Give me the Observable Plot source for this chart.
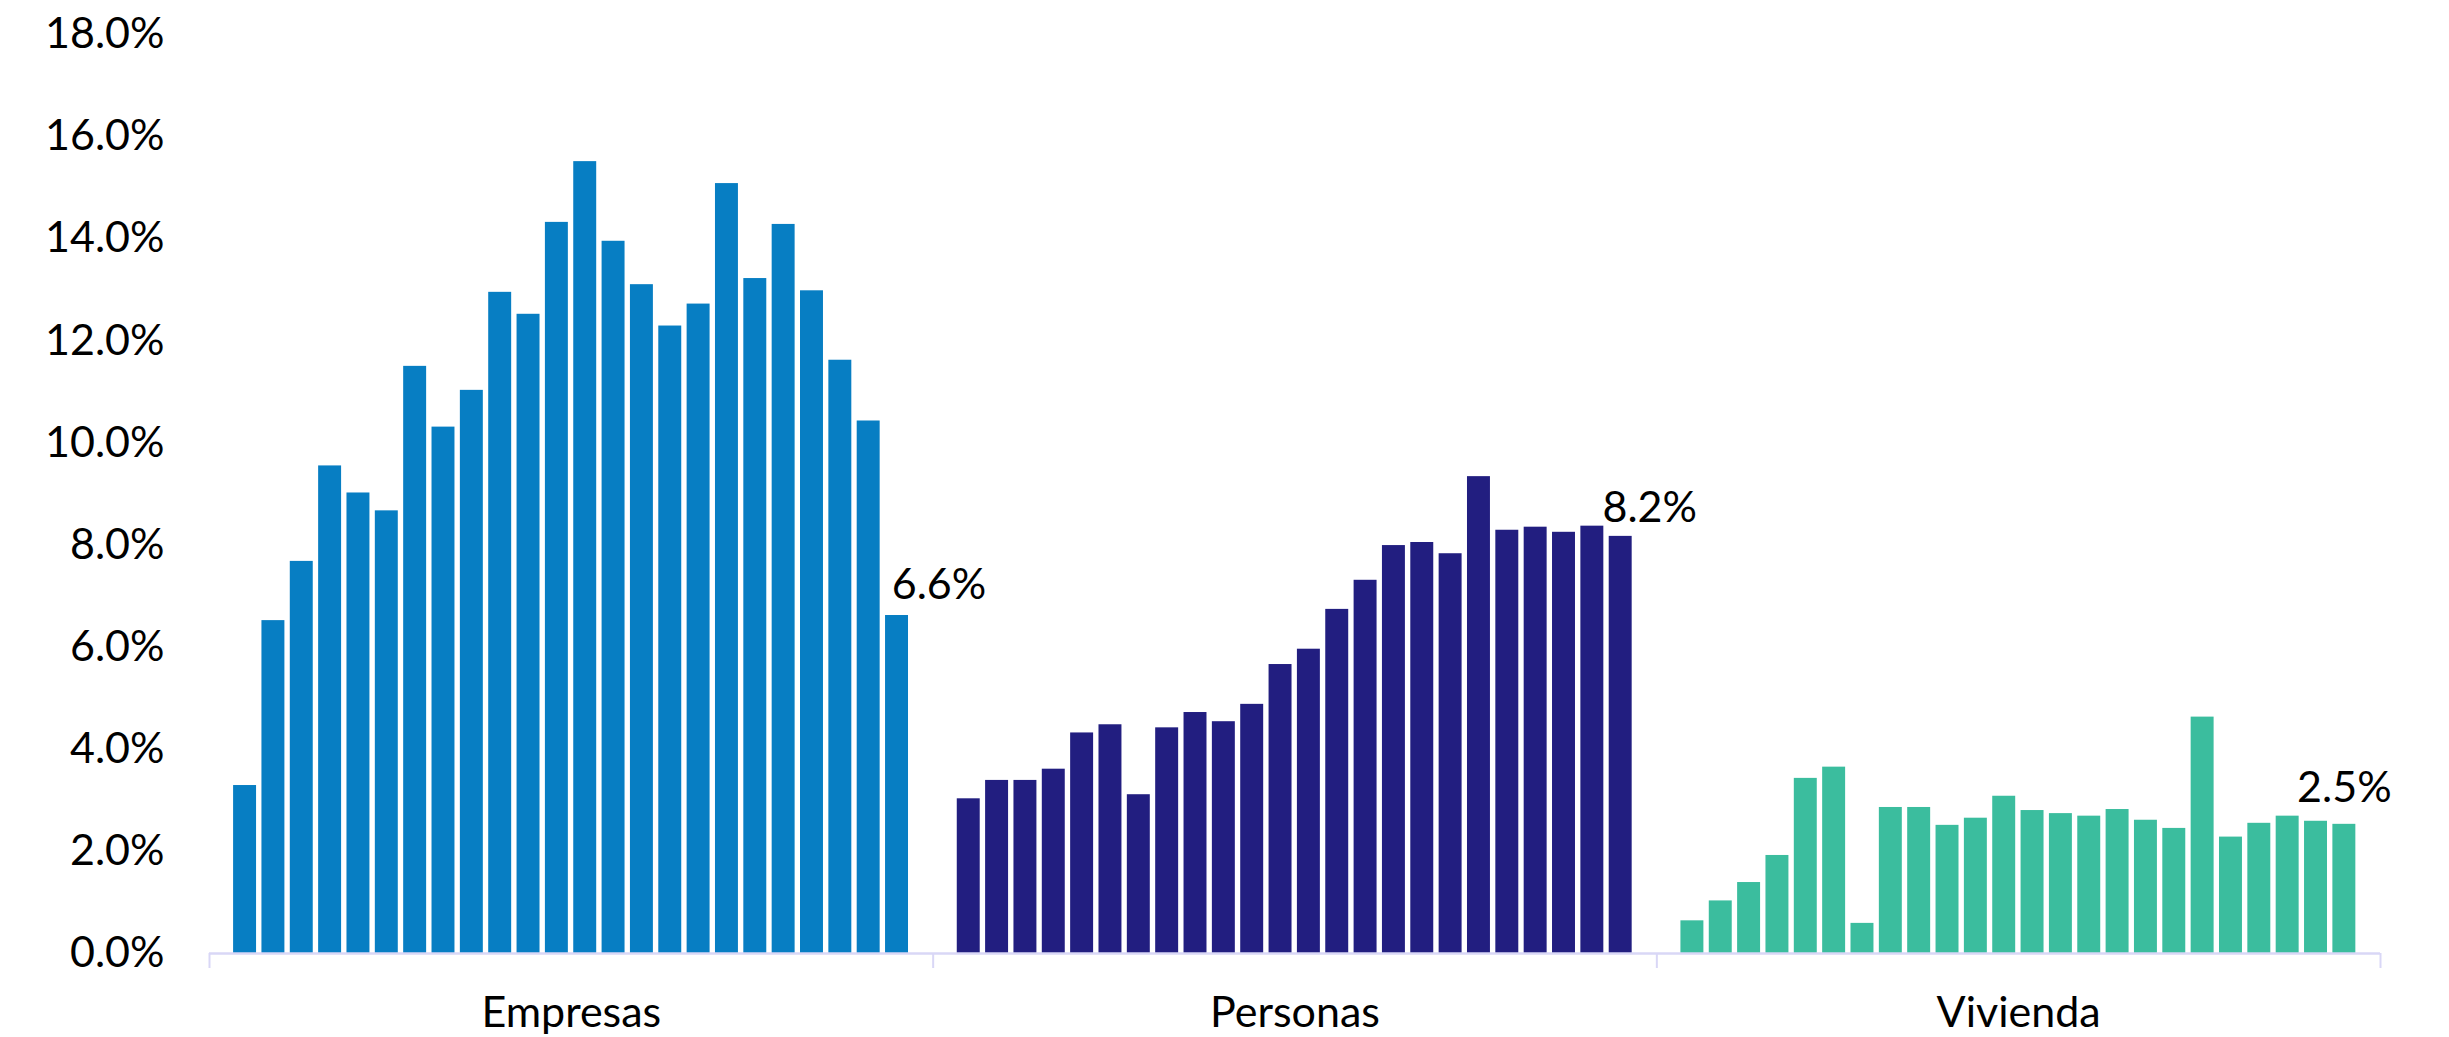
<!DOCTYPE html>
<html>
<head>
<meta charset="utf-8">
<script src="https://cdn.jsdelivr.net/npm/d3@7"></script>
<script src="https://cdn.jsdelivr.net/npm/@observablehq/plot@0.6"></script>
<style>
  html, body { margin: 0; padding: 0; background: #fff; }
  #chart svg { display: block; }
</style>
</head>
<body>
<div id="chart"></div>
<script>
// ---- data ----
const categories = ["Empresas", "Personas", "Vivienda"];
const colors = ["#077ec3", "#221e80", "#3bbd9e"];
const empresas = [3.29, 6.52, 7.68, 9.55, 9.02, 8.67, 11.50, 10.31, 11.03, 12.95, 12.52, 14.32,
                  15.51, 13.95, 13.10, 12.29, 12.72, 15.08, 13.22, 14.28, 12.98, 11.62, 10.43, 6.62];
const personas = [3.03, 3.39, 3.39, 3.61, 4.32, 4.48, 3.11, 4.42, 4.72, 4.54, 4.88, 5.66,
                  5.96, 6.74, 7.31, 7.99, 8.05, 7.83, 9.34, 8.29, 8.35, 8.25, 8.37, 8.17];
const vivienda = [0.64, 1.03, 1.39, 1.92, 3.43, 3.65, 0.59, 2.86, 2.86, 2.51, 2.65, 3.08,
                  2.80, 2.74, 2.69, 2.82, 2.61, 2.45, 4.63, 2.28, 2.55, 2.69, 2.59, 2.53];
const yTicks = [0, 2, 4, 6, 8, 10, 12, 14, 16, 18];

// ---- layout constants (in bar-step units) ----
const GROUP = 25.53;   // width of one category group
const OFFSET = 0.85;   // space before first bar
const BARW = 0.81;     // bar width

const series = [empresas, personas, vivienda];
const rows = [];
series.forEach((vals, g) => vals.forEach((v, i) => rows.push({
  cat: categories[g], g, i, value: v,
  x1: g * GROUP + OFFSET + i, x2: g * GROUP + OFFSET + i + BARW
})));
const lastRows = series.map((vals, g) => rows.filter(r => r.g === g).at(-1));
const labelDx = [42, 29, 0];
const labelDy = [-17, -14, -22];

const fmt = d => d.toFixed(1) + "%";
const FONT = "Lato, 'Open Sans', sans-serif";
const FS = 43;

const plot = Plot.plot({
  width: 2449,
  height: 1037,
  marginLeft: 209,
  marginRight: 69,
  marginTop: 34,
  marginBottom: 84,
  style: {fontFamily: FONT, fontSize: FS + "px", color: "#000", background: "#fff"},
  x: {domain: [0, 3 * GROUP], axis: null},
  y: {domain: [0, 18], axis: null},
  marks: [
    Plot.rectY(rows, {
      x1: "x1", x2: "x2", y1: 0, y2: "value",
      fill: d => colors[d.g], inset: 0
    }),
    Plot.ruleY([0], {stroke: "#d9d7f6", strokeWidth: 2.5}),
    Plot.axisX([0, GROUP, 2 * GROUP, 3 * GROUP], {
      tickSize: 15, stroke: "#d9d7f6", strokeWidth: 2, tickFormat: () => "", label: null
    }),
    Plot.axisX([0.5 * GROUP, 1.5 * GROUP, 2.5 * GROUP], {
      tickSize: 0, tickPadding: 43, fontSize: FS, fill: "#000", label: null,
      tickFormat: d => categories[Math.floor(d / GROUP)]
    }),
    Plot.axisY(yTicks, {
      tickSize: 0, tickPadding: 45, fontSize: FS, fill: "#000", label: null,
      tickFormat: fmt
    }),
    ...lastRows.map((r, k) => Plot.text([r], {
      x: d => (d.x1 + d.x2) / 2, y: "value", text: d => fmt(d.value),
      textAnchor: "middle", lineAnchor: "bottom",
      dx: labelDx[k], dy: labelDy[k], fontSize: FS, fill: "#000"
    }))
  ]
});
document.getElementById("chart").append(plot);
</script>
</body>
</html>
